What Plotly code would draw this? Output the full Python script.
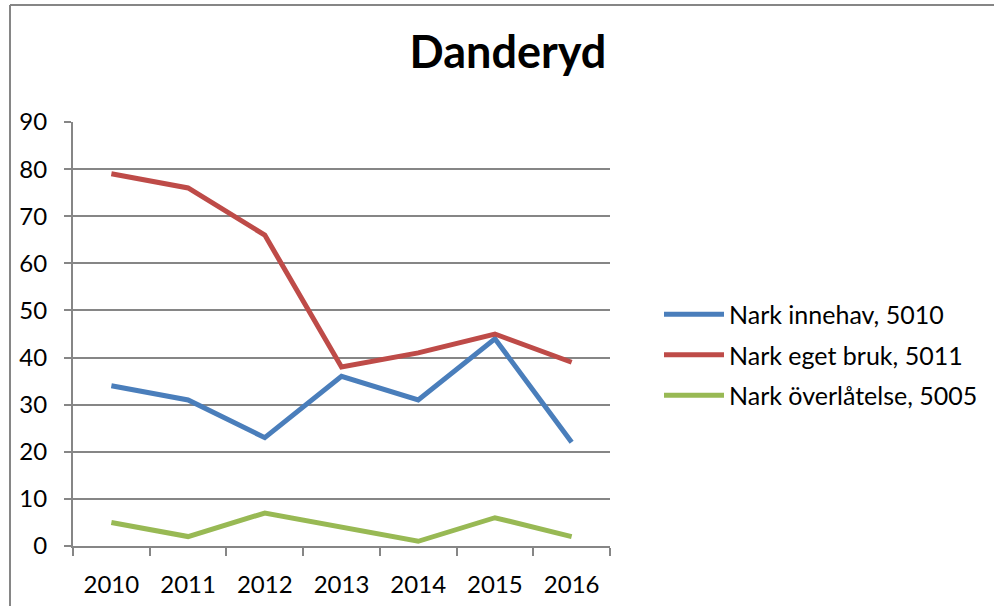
import plotly.graph_objects as go

years = ["2010", "2011", "2012", "2013", "2014", "2015", "2016"]
innehav = [34, 31, 23, 36, 31, 44, 22]
eget_bruk = [79, 76, 66, 38, 41, 45, 39]
overlatelse = [5, 2, 7, 4, 1, 6, 2]
y_ticks = [0, 10, 20, 30, 40, 50, 60, 70, 80, 90]

W, H = 994, 606
L, R, T, B = 73, 610, 122, 546

FONT = "Lato, Open Sans, sans-serif"

fig = go.Figure()
fig.add_trace(go.Scatter(x=years, y=innehav, mode="lines", name="Nark innehav, 5010",
                         legendgroup="a", line=dict(color="#4A7EBB", width=5)))
fig.add_trace(go.Scatter(x=years, y=eget_bruk, mode="lines", name="Nark eget bruk, 5011",
                         legendgroup="b", line=dict(color="#BE4B48", width=5)))
fig.add_trace(go.Scatter(x=years, y=overlatelse, mode="lines", name="Nark överlåtelse, 5005",
                         legendgroup="c", line=dict(color="#98B954", width=5)))

pw, ph = R - L, B - T
def px(x):
    return (x - L) / pw
def py(y):
    return (B - y) / ph

fig.update_layout(
    width=W, height=H,
    margin=dict(l=L, r=W - R, t=T, b=H - B, autoexpand=False),
    paper_bgcolor="white", plot_bgcolor="white",
    font=dict(family=FONT, color="black", size=24),
    title=dict(text="<b>Danderyd</b>", x=px(508), xref="paper", xanchor="center",
               y=1 - 52 / H, yanchor="middle", font=dict(size=45, family=FONT, color="black")),
    showlegend=True,
    legend=dict(x=px(659), y=py(355), xanchor="left", yanchor="middle",
                font=dict(size=25, family=FONT), tracegroupgap=5, itemwidth=60,
                bgcolor="rgba(0,0,0,0)"),
    xaxis=dict(type="category", showgrid=False, showline=True, linecolor="#868686", linewidth=2,
               ticks="outside", tickson="boundaries", ticklen=8, tickcolor="#868686", tickwidth=2,
               tickfont=dict(size=24), ticklabelstandoff=16, range=[-0.5, 6.5], fixedrange=True),
    yaxis=dict(range=[0, 90], tickvals=y_ticks, showgrid=True, gridcolor="#868686", gridwidth=2,
               showline=True, linecolor="#868686", linewidth=2, ticks="outside", ticklen=7,
               tickcolor="#868686", tickwidth=2, tickfont=dict(size=24), zeroline=False,
               ticklabelstandoff=12),
    shapes=[
        dict(type="line", xref="paper", yref="paper", x0=px(10), x1=px(994), y0=py(5), y1=py(5),
             line=dict(color="#868686", width=2)),
        dict(type="line", xref="paper", yref="paper", x0=px(10), x1=px(10), y0=py(5), y1=py(606),
             line=dict(color="#868686", width=2)),
    ],
)

fig.write_html("out.html", config={"displayModeBar": False},
               post_script="document.body.style.margin='0';document.body.style.overflow='hidden';")
